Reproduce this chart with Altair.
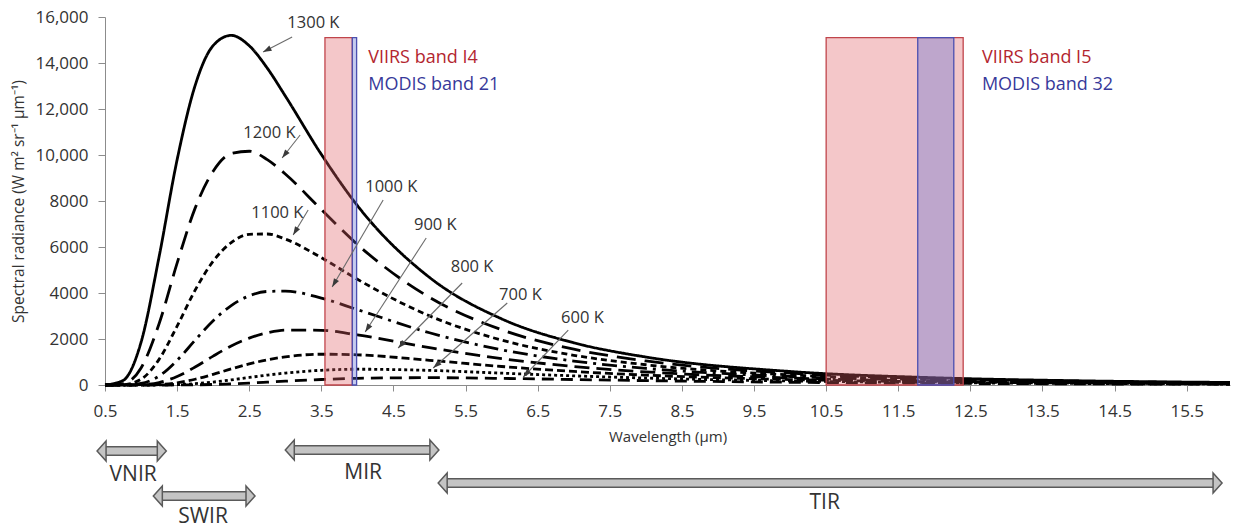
import math
import altair as alt
import pandas as pd

# ---------------- data ----------------
wavelength = [0.5, 0.75, 1.0, 1.25, 1.5, 1.75, 2.0, 2.25, 2.5, 2.75, 3.0, 3.5,
              4.0, 5.0, 6.0, 7.0, 8.0, 10.0, 12.0, 14.0, 16.1]
r1300 = [1, 196, 1858, 5575, 9795, 13024, 14758, 15200, 14751, 13777, 12567, 10027,
         7800, 4677, 2876, 1836, 1216, 588, 316, 184, 111]
r1200 = [0, 57, 739, 2665, 5299, 7690, 9296, 10062, 10162, 9801, 9175, 7625,
         6110, 3811, 2402, 1559, 1046, 514, 279, 163, 100]
r1100 = [0, 13, 249, 1114, 2561, 4122, 5384, 6190, 6551, 6566, 6343, 5536,
         4595, 3005, 1952, 1293, 880, 441, 242, 143, 88]
r1000 = [0, 2, 67, 391, 1071, 1951, 2798, 3455, 3875, 4067, 4083, 3780,
         3277, 2272, 1531, 1041, 721, 370, 207, 123, 76]
r900 = [0, 0, 14, 109, 369, 782, 1257, 1696, 2040, 2267, 2388, 2379,
        2177, 1624, 1146, 804, 570, 302, 172, 104, 65]
r800 = [0, 0, 2, 22, 97, 250, 463, 698, 917, 1095, 1224, 1338,
        1311, 1074, 805, 588, 429, 236, 138, 85, 54]
r700 = [0, 0, 0, 3, 18, 58, 128, 223, 328, 430, 519, 640,
        686, 635, 515, 397, 302, 175, 105, 66, 43]
r600 = [0, 0, 0, 0, 2, 8, 23, 49, 83, 124, 166, 240,
        291, 318, 287, 238, 191, 119, 75, 49, 32]

temps = ["1300 K", "1200 K", "1100 K", "1000 K", "900 K", "800 K", "700 K", "600 K"]
series = [r1300, r1200, r1100, r1000, r900, r800, r700, r600]
dashes = [[1, 0], [19, 9], [6, 4], [15, 6, 3, 6], [15, 7], [8, 4], [3, 3], [12, 7]]

# temperature labels and their pointer arrows (data units)
label_x = [3.39, 2.78, 2.89, 4.47, 5.08, 5.59, 6.26, 7.12]
label_y = [15740, 10957, 7479, 8609, 6957, 5131, 3913, 2913]
arrow_x0 = [3.095, 3.206, 3.317, 4.357, 4.954, 5.453, 6.078, 6.924]
arrow_y0 = [15131, 10870, 7609, 8044, 6392, 4435, 3565, 2391]
arrow_x1 = [2.692, 2.956, 3.109, 3.65, 4.108, 4.565, 5.051, 6.3]
arrow_y1 = [14479, 9870, 6522, 4261, 2304, 1609, 739, 348]

# satellite bands
band_names = ["VIIRS band I4", "MODIS band 21", "VIIRS band I5", "MODIS band 32"]
band_kind = ["VIIRS", "MODIS", "VIIRS", "MODIS"]
band_lo = [3.55, 3.929, 10.5, 11.77]
band_hi = [3.93, 3.989, 12.4, 12.27]
band_top = 15100
band_text_x = [4.15, 4.15, 12.66, 12.66]
band_text_y = [14218, 13044, 14218, 13044]

# spectral region arrows below the axis
region_names = ["VNIR", "SWIR", "MIR", "TIR"]
region_start = [0.39, 1.17, 3.0, 5.12]
region_end = [1.35, 2.58, 5.13, 15.99]
region_y = [-2870, -4826, -2826, -4261]
region_lab_x = [0.89, 1.86, 4.08, 10.48]
region_lab_y = [-3913, -5739, -3826, -5131]

# ---------------- layout ----------------
W, H = 1125, 368
XMIN, XMAX = 0.5, 16.1
YMIN, YMAX = 0, 16000
FONT = "Open Sans"

x_scale = alt.Scale(domain=[XMIN, XMAX], nice=False, zero=False)
y_scale = alt.Scale(domain=[YMIN, YMAX], nice=False, zero=False)

rows = []
for t, vals in zip(temps, series):
    for w, v in zip(wavelength, vals):
        rows.append({"wl": w, "val": v, "T": t})
curves = pd.DataFrame(rows)

x_axis = alt.Axis(values=[0.5 + i for i in range(16)], format=".1f", title="Wavelength (µm)",
                  grid=False, domainColor="#8c8c8c", tickColor="#8c8c8c", tickSize=6,
                  labelPadding=12, labelFontSize=17, labelColor="#333333",
                  titleFontSize=15, titleFontWeight="normal", titleColor="#333333",
                  titlePadding=10, labelFlush=False)
y_axis = alt.Axis(values=list(range(0, 16001, 2000)),
                  labelExpr="datum.value >= 10000 ? format(datum.value, ',') : format(datum.value, 'd')",
                  title="Spectral radiance (W m² sr⁻¹ µm⁻¹)", grid=False,
                  domainColor="#8c8c8c", tickColor="#8c8c8c", tickSize=7, labelPadding=10,
                  labelFontSize=17, labelColor="#333333", titleFontSize=15.5,
                  titleFontWeight="normal", titleColor="#333333", titlePadding=8)


def X(field):
    return alt.X(field, scale=x_scale, axis=x_axis, title="Wavelength (µm)")


def Y(field):
    return alt.Y(field, scale=y_scale, axis=y_axis, title="Spectral radiance (W m² sr⁻¹ µm⁻¹)")


lines = alt.Chart(curves).mark_line(interpolate="monotone", strokeWidth=2.8, color="black").encode(
    x=X("wl:Q"),
    y=Y("val:Q"),
    strokeDash=alt.StrokeDash("T:N", scale=alt.Scale(domain=temps, range=dashes), legend=None),
    detail="T:N",
)

bands = pd.DataFrame({"name": band_names, "kind": band_kind, "lo": band_lo, "hi": band_hi,
                      "top": [band_top] * 4, "bottom": [0] * 4,
                      "tx": band_text_x, "ty": band_text_y})

rects = alt.Chart(bands).mark_rect(fillOpacity=0.35, strokeOpacity=1, strokeWidth=1.3).encode(
    x=X("lo:Q"), x2="hi:Q",
    y=Y("bottom:Q"), y2="top:Q",
    fill=alt.Fill("kind:N", scale=alt.Scale(domain=["VIIRS", "MODIS"], range=["#df5f64", "#5a6ad0"]), legend=None),
    stroke=alt.Stroke("kind:N", scale=alt.Scale(domain=["VIIRS", "MODIS"], range=["#c0454b", "#4b4fb0"]), legend=None),
    order=alt.Order("kind:N", sort="descending"),
)

band_text = alt.Chart(bands).mark_text(align="left", baseline="middle", fontSize=18, font=FONT).encode(
    x=X("tx:Q"),
    y=Y("ty:Q"),
    text="name:N",
    color=alt.Color("kind:N", scale=alt.Scale(domain=["VIIRS", "MODIS"], range=["#b3262f", "#37399a"]), legend=None),
)

# pointer arrows
sx = W / (XMAX - XMIN)
sy = H / (YMAX - YMIN)
angles = []
for a, b, c, d in zip(arrow_x0, arrow_y0, arrow_x1, arrow_y1):
    dx = (c - a) * sx
    dy = -(d - b) * sy
    angles.append(math.degrees(math.atan2(dx, -dy)) % 360)

ann = pd.DataFrame({"T": temps, "lx": label_x, "ly": label_y, "x0": arrow_x0, "y0": arrow_y0,
                    "x1": arrow_x1, "y1": arrow_y1, "ang": angles})

ann_text = alt.Chart(ann).mark_text(fontSize=16.5, font=FONT, color="#333333", baseline="middle").encode(
    x=X("lx:Q"),
    y=Y("ly:Q"),
    text="T:N",
)
ann_line = alt.Chart(ann).mark_rule(color="#6b6b6b", strokeWidth=1.1).encode(
    x=X("x0:Q"), x2="x1:Q",
    y=Y("y0:Q"), y2="y1:Q",
)
ann_head = alt.Chart(ann).mark_point(shape="M0,0L0.75,2.2L-0.75,2.2Z", filled=True, size=60,
                                     color="#3a3a3a", opacity=1).encode(
    x=X("x1:Q"),
    y=Y("y1:Q"),
    angle=alt.Angle("ang:Q", scale=None),
)

# region double arrows
reg = pd.DataFrame({"name": region_names, "xs": region_start, "xe": region_end, "y": region_y,
                    "lx": region_lab_x, "ly": region_lab_y})

shaft_out = alt.Chart(reg).mark_rule(color="#5a5a5a", strokeWidth=10, xOffset=8, x2Offset=-8).encode(
    x=X("xs:Q"), x2="xe:Q",
    y=Y("y:Q"),
)
shaft_in = alt.Chart(reg).mark_rule(color="#c4c4c4", strokeWidth=7, xOffset=7, x2Offset=-7).encode(
    x=X("xs:Q"), x2="xe:Q",
    y=Y("y:Q"),
)
head_r = alt.Chart(reg).mark_point(shape="M-0.45,-1L0.45,0L-0.45,1Z", filled=True, size=400,
                                   fill="#c4c4c4", stroke="#5a5a5a", strokeWidth=1.5, opacity=1,
                                   xOffset=-4.5).encode(
    x=X("xe:Q"),
    y=Y("y:Q"),
)
head_l = alt.Chart(reg).mark_point(shape="M0.45,-1L-0.45,0L0.45,1Z", filled=True, size=400,
                                   fill="#c4c4c4", stroke="#5a5a5a", strokeWidth=1.5, opacity=1,
                                   xOffset=4.5).encode(
    x=X("xs:Q"),
    y=Y("y:Q"),
)
reg_text = alt.Chart(reg).mark_text(fontSize=21, font=FONT, color="#333333", baseline="middle").encode(
    x=X("lx:Q"),
    y=Y("ly:Q"),
    text="name:N",
)

chart = alt.layer(
    lines, rects, band_text, ann_line, ann_head, ann_text,
    shaft_out, shaft_in, head_l, head_r, reg_text,
).resolve_scale(fill="independent", stroke="independent", color="independent").properties(
    width=W, height=H,
    autosize=alt.AutoSizeParams(type="none"),
    padding={"left": 105, "top": 17, "right": 8, "bottom": 144},
    background="white",
).configure(font=FONT).configure_view(stroke=None)

chart.save("out.html", embed_options={"renderer": "svg", "actions": False})
